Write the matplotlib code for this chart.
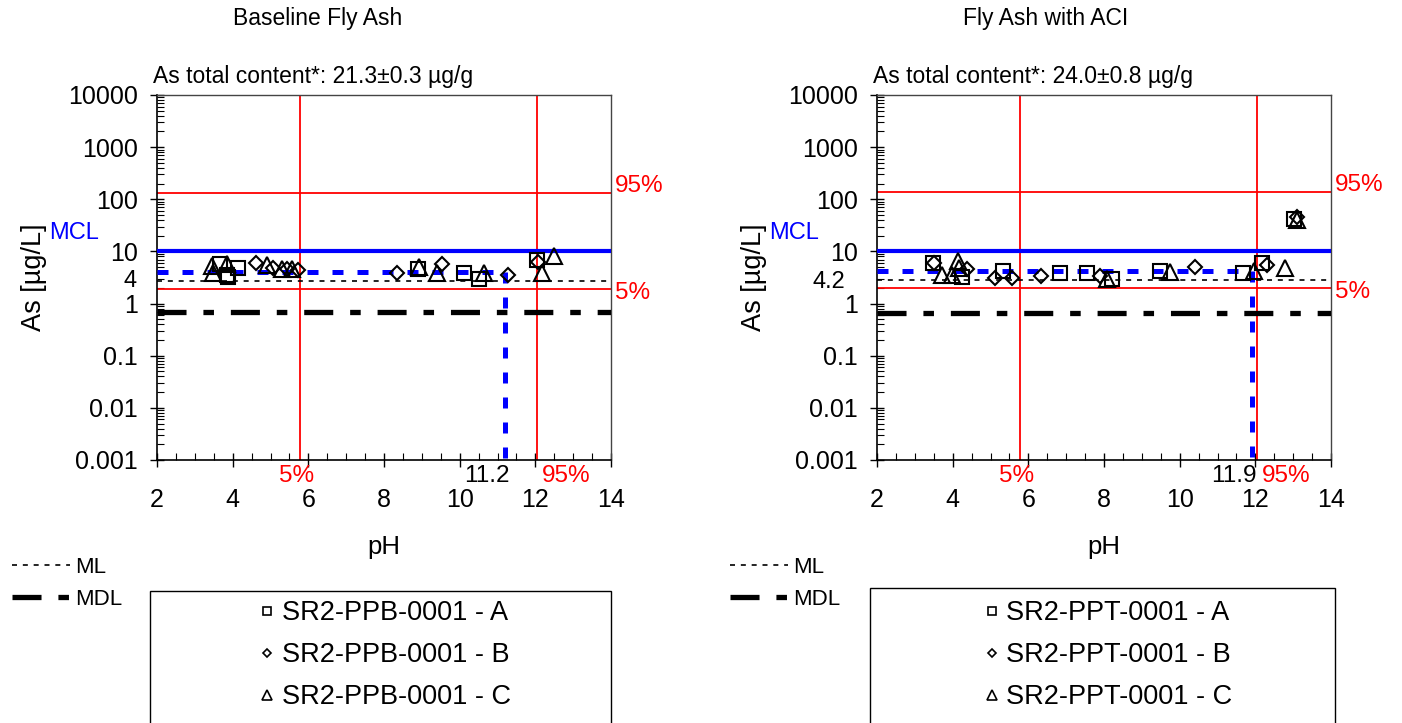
import matplotlib.pyplot as plt
import numpy as np
from matplotlib.lines import Line2D
from matplotlib.patches import Rectangle
from matplotlib.ticker import MultipleLocator, LogLocator, FixedLocator, NullFormatter

plt.rcParams['font.family'] = ['Liberation Sans', 'DejaVu Sans']

# --- data: baseline fly ash (pH, As ug/L) ---
base_a_ph = [3.67, 3.84, 3.88, 4.15, 8.91, 10.12, 10.52, 12.05]
base_a_as = [5.7, 3.6, 3.2, 4.8, 4.6, 3.9, 2.9, 6.8]
base_b_ph = [4.62, 5.07, 5.43, 5.73, 8.35, 9.53, 11.29, 12.08]
base_b_as = [6.0, 4.8, 4.6, 4.4, 3.9, 5.7, 3.6, 6.4]
base_c_ph = [3.45, 3.47, 3.86, 4.90, 5.30, 5.56, 8.93, 9.41, 10.63, 12.17, 12.49]
base_c_as = [5.3, 3.9, 5.7, 5.5, 4.6, 4.6, 5.0, 3.9, 3.8, 3.9, 8.0]

# --- data: fly ash with ACI ---
aci_a_ph = [3.49, 4.24, 5.34, 6.84, 7.54, 8.20, 9.48, 11.67, 12.17, 13.02]
aci_a_as = [5.9, 3.2, 4.2, 3.8, 3.8, 2.9, 4.2, 3.8, 6.1, 42]
aci_b_ph = [3.51, 4.37, 5.12, 5.56, 6.33, 7.89, 10.41, 12.32, 13.11]
aci_b_as = [6.1, 4.6, 3.1, 3.1, 3.4, 3.4, 5.1, 5.5, 45]
aci_c_ph = [3.71, 3.97, 4.15, 4.18, 8.09, 9.75, 11.97, 12.79, 13.09]
aci_c_as = [3.5, 3.5, 6.6, 4.8, 3.0, 4.1, 4.2, 4.9, 40]

titles = ['Baseline Fly Ash', 'Fly Ash with ACI']
totals = ['As total content*: 21.3\u00b10.3 \u00b5g/g', 'As total content*: 24.0\u00b10.8 \u00b5g/g']
sample_ids = ['SR2-PPB-0001', 'SR2-PPT-0001']
mcl = 10
ml = [2.7, 2.8]
mdl = [0.68, 0.65]
y95 = [130, 137]
y05 = [1.9, 2.0]
ph05 = [5.78, 5.78]
ph95 = [12.04, 12.04]
drop_ph = [11.2, 11.9]
drop_as = [4.0, 4.2]
drop_lbl = ['4', '4.2']

ytick_vals = [0.001, 0.01, 0.1, 1, 10, 100, 1000, 10000]
ytick_lbls = ['0.001', '0.01', '0.1', '1', '10', '100', '1000', '10000']

W, H = 1402, 723
fig = plt.figure(figsize=(14.02, 7.23), dpi=100)

ax_left = [157, 877]
series = [
    [(base_a_ph, base_a_as), (base_b_ph, base_b_as), (base_c_ph, base_c_as)],
    [(aci_a_ph, aci_a_as), (aci_b_ph, aci_b_as), (aci_c_ph, aci_c_as)],
]
markers = [('s', 10), ('D', 7), ('^', 11.5)]
title_x = [318, 1046]
lbl_off = [(-15, -6), (-23, -8)]

ml_style = dict(color='black', lw=1.2, dashes=(3, 3.5))
mdl_style = dict(color='black', lw=3.8, dashes=(5.5, 3.2, 2, 3.2))
blue_dash = dict(color='#0000ff', lw=3.6, dashes=(2.2, 2.8))

for i in range(2):
    ax = fig.add_axes([ax_left[i] / W, 1 - 460 / H, 454 / W, 365 / H])
    ax.set_yscale('log')
    ax.set_xlim(2, 14)
    ax.set_ylim(0.001, 10000)

    # reference lines
    ax.axhline(y95[i], color='red', lw=1.3, zorder=2)
    ax.axhline(y05[i], color='red', lw=1.3, zorder=2)
    ax.axvline(ph05[i], color='red', lw=1.3, zorder=2)
    ax.axvline(ph95[i], color='red', lw=1.3, zorder=2)
    ax.axhline(mcl, color='#0000ff', lw=3, zorder=3)
    ax.axhline(ml[i], **ml_style, zorder=3)
    ax.axhline(mdl[i], **mdl_style, zorder=3)
    ax.plot([2, drop_ph[i]], [drop_as[i], drop_as[i]], **blue_dash, zorder=3)
    ax.plot([drop_ph[i], drop_ph[i]], [drop_as[i], 0.001], **blue_dash, zorder=3, clip_on=False)

    for (px, py), (m, ms) in zip(series[i], markers):
        ax.plot(px, py, ls='none', marker=m, ms=ms, mfc='none', mec='black', mew=1.5, zorder=5)

    # ticks
    ax.xaxis.set_major_locator(MultipleLocator(2))
    ax.xaxis.set_minor_locator(MultipleLocator(0.5))
    ax.yaxis.set_major_locator(FixedLocator(ytick_vals))
    ax.set_yticklabels(ytick_lbls)
    ax.yaxis.set_minor_locator(LogLocator(base=10, subs=np.arange(2, 10)))
    ax.yaxis.set_minor_formatter(NullFormatter())
    ax.tick_params(axis='x', which='major', direction='inout', length=10, width=1, labelsize=18, pad=15)
    ax.tick_params(axis='x', which='minor', direction='in', length=5, width=0.8)
    ax.tick_params(axis='y', which='major', direction='inout', length=10, width=1, labelsize=18, pad=9)
    ax.tick_params(axis='y', which='minor', direction='in', length=5, width=0.8)
    for s in ['top', 'right']:
        ax.spines[s].set_color('#444444')
        ax.spines[s].set_linewidth(1)
    for s in ['left', 'bottom']:
        ax.spines[s].set_linewidth(1.2)

    ax.set_xlabel('pH', fontsize=18.5)
    ax.xaxis.set_label_coords(0.5, -0.205)
    ax.set_ylabel('As [\u00b5g/L]', fontsize=19.5)
    ax.yaxis.set_label_coords(-0.242, 0.5)

    # annotations
    ytr = ax.get_yaxis_transform()
    xtr = ax.get_xaxis_transform()
    ax.text(-0.009, 1.052, totals[i], transform=ax.transAxes, fontsize=16.5, va='center', ha='left')
    ax.annotate('MCL', xy=(0, mcl), xycoords=ytr, xytext=(-42, 13), textcoords='offset points',
                ha='right', va='center', color='#0000ff', fontsize=17)
    ax.annotate(drop_lbl[i], xy=(0, drop_as[i]), xycoords=ytr, xytext=lbl_off[i], textcoords='offset points',
                ha='right', va='center', fontsize=17)
    ax.annotate('95%', xy=(1, y95[i]), xycoords=ytr, xytext=(3, 5), textcoords='offset points',
                ha='left', va='center', color='red', fontsize=17.5)
    ax.annotate('5%', xy=(1, y05[i]), xycoords=ytr, xytext=(3, -3), textcoords='offset points',
                ha='left', va='center', color='red', fontsize=17.5)
    ax.text(ph05[i] - 0.08, -0.045, '5%', transform=xtr, ha='center', va='center', color='red', fontsize=17.5)
    ax.text(ph95[i] + 0.12, -0.045, '95%', transform=xtr, ha='left', va='center', color='red', fontsize=17.5)
    ax.text(drop_ph[i] + 0.13, -0.045, f'{drop_ph[i]:.1f}', transform=xtr, ha='right', va='center', fontsize=17.5)

    fig.text(title_x[i] / W, 1 - 19 / H, titles[i], ha='center', va='center', fontsize=16.5)

    # ML / MDL legend
    h_ml = Line2D([], [], **ml_style)
    h_mdl = Line2D([], [], **mdl_style)
    lx = [12, 730][i]
    fig.legend([h_ml, h_mdl], ['ML', 'MDL'], loc='upper left', bbox_to_anchor=(lx / W, 1 - 557 / H),
               frameon=False, fontsize=16, handlelength=2.6, handletextpad=0.25, labelspacing=0.5,
               borderpad=0, borderaxespad=0)

    # sample legend in a box
    bx0, bx1, by0 = [(150, 611, 591), (870, 1335, 588)][i]
    fig.add_artist(Rectangle((bx0 / W, -0.01), (bx1 - bx0) / W, 1 - by0 / H + 0.01,
                             transform=fig.transFigure, fill=False, edgecolor='black', lw=1))
    hs = [Line2D([], [], ls='none', marker=m, ms=ms * 0.6, mfc='none', mec='black', mew=1.2)
          for m, ms in markers]
    labels = [f'{sample_ids[i]} - {c}' for c in 'ABC']
    cx = [385, 1108][i]
    fig.legend(hs, labels, loc='upper center', bbox_to_anchor=(cx / W, 1 - 600 / H),
               frameon=False, fontsize=19.5, handlelength=0.6, handletextpad=0.25, labelspacing=0.6,
               borderpad=0, borderaxespad=0)

fig.savefig('out.png', dpi=100)
